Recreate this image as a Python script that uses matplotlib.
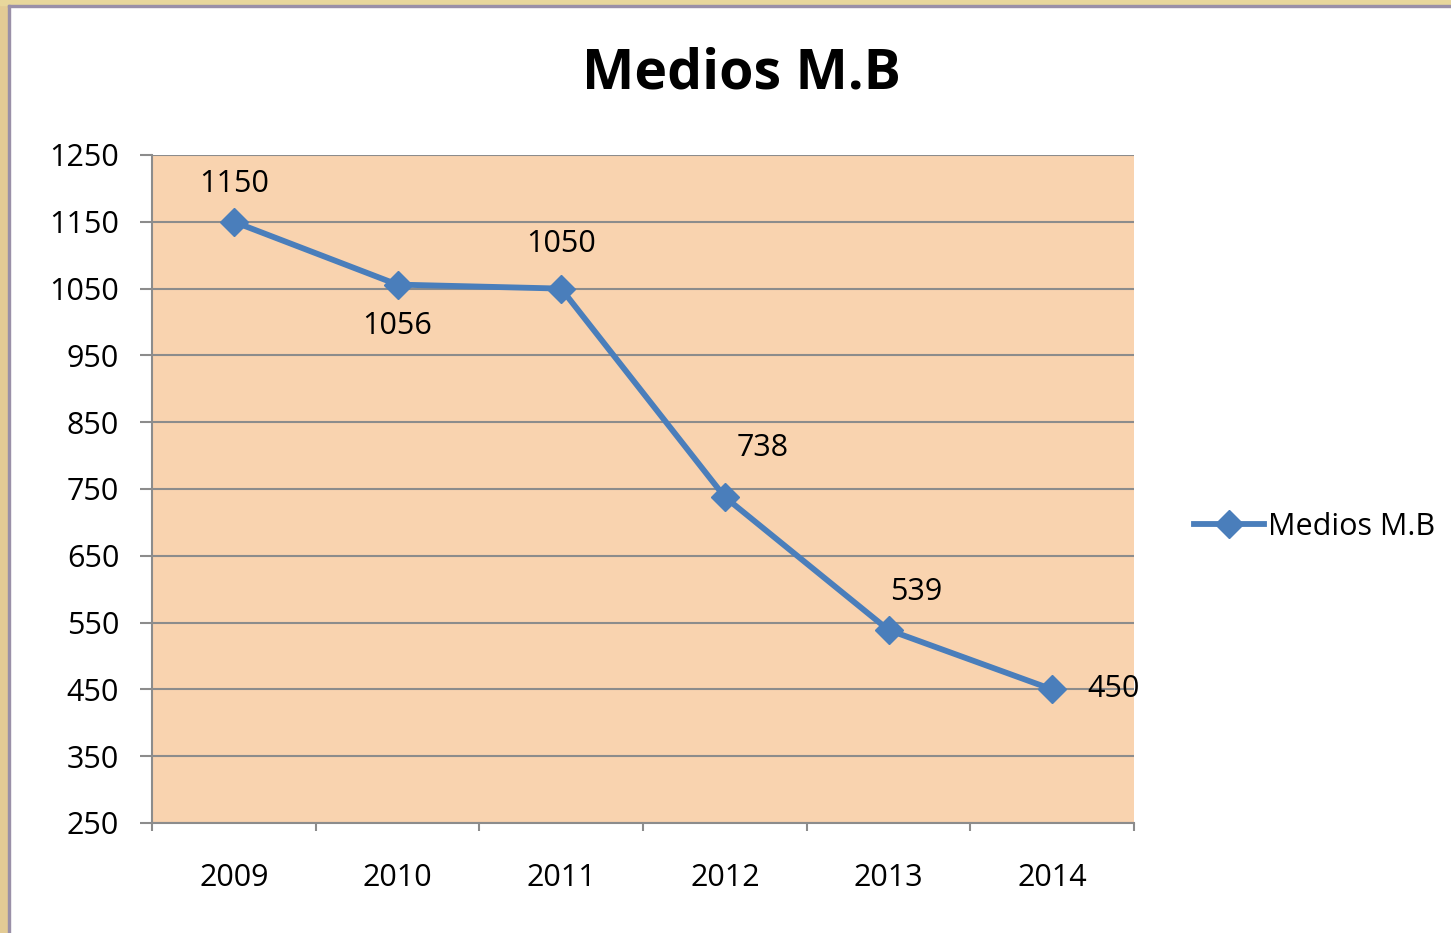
import matplotlib.pyplot as plt
from matplotlib.patches import Rectangle

# data
years = ["2009", "2010", "2011", "2012", "2013", "2014"]
valores = [1150, 1056, 1050, 738, 539, 450]
# label offsets (pixels) for each data label
label_dx = [0, 0, 0, 38, 28, 61]
label_dy = [38, -41, 45, 49, 38, 0]
y_ticks = [250, 350, 450, 550, 650, 750, 850, 950, 1050, 1150, 1250]

plt.rcParams['font.family'] = ['Open Sans', 'DejaVu Sans']
azul = '#4A7EBB'
gris = '#8C8C8C'

fig = plt.figure(figsize=(14.51, 9.33), dpi=100)
fig.patch.set_facecolor('white')

# frame round the picture
fig.patches.append(Rectangle((0, 0), 8 / 1451, 1, transform=fig.transFigure, color='#E3CB95', zorder=0))
fig.patches.append(Rectangle((0, 1 - 5 / 933), 1, 5 / 933, transform=fig.transFigure, color='#E8D79C', zorder=0))
fig.patches.append(Rectangle((8 / 1451, 0), 2 / 1451, 1 - 5 / 933, transform=fig.transFigure, color='#9A90A8', zorder=0))
fig.patches.append(Rectangle((8 / 1451, 1 - 7 / 933), 1, 2 / 933, transform=fig.transFigure, color='#9A90A8', zorder=0))

ax = fig.add_axes([152 / 1451, 1 - 823 / 933, 982 / 1451, 668 / 933])
ax.set_facecolor('#F9D3AF')
x = list(range(len(years)))
ax.plot(x, valores, color=azul, lw=4.2, marker='D', markersize=14, label='Medios M.B', zorder=3)

for i, v in enumerate(valores):
    ax.annotate(str(v), (x[i], v), xytext=(label_dx[i], label_dy[i]), textcoords='offset pixels',
                ha='center', va='center', fontsize=22, color='black', zorder=4)

ax.set_xlim(-0.5, len(years) - 0.5)
ax.set_ylim(250, 1250)
ax.set_yticks(y_ticks)
ax.set_yticklabels([str(t) for t in y_ticks], fontsize=22)
ax.set_xticks([i - 0.5 for i in range(len(years) + 1)])
ax.set_xticklabels([])
ax.set_xticks(x, minor=True)
ax.set_xticklabels(years, minor=True, fontsize=22)
ax.tick_params(axis='x', which='minor', length=0, pad=29)
ax.tick_params(axis='x', which='major', length=6, color=gris, width=1.5)
ax.tick_params(axis='y', length=8.6, color=gris, width=1.5, pad=15)
ax.grid(axis='y', color=gris, lw=1.5)
ax.set_axisbelow(True)
for s in ['top', 'right']:
    ax.spines[s].set_visible(False)
for s in ['left', 'bottom']:
    ax.spines[s].set_color(gris)
    ax.spines[s].set_linewidth(1.5)

fig.text(741 / 1451, 1 - 74 / 933, 'Medios M.B', ha='center', va='center', fontsize=40, fontweight='bold')

fig.legend(loc='center left', bbox_to_anchor=(1166 / 1451, 1 - 527 / 933), frameon=False,
           fontsize=22, handlelength=2.3, handletextpad=0.15)

fig.savefig('out.png', dpi=100)
